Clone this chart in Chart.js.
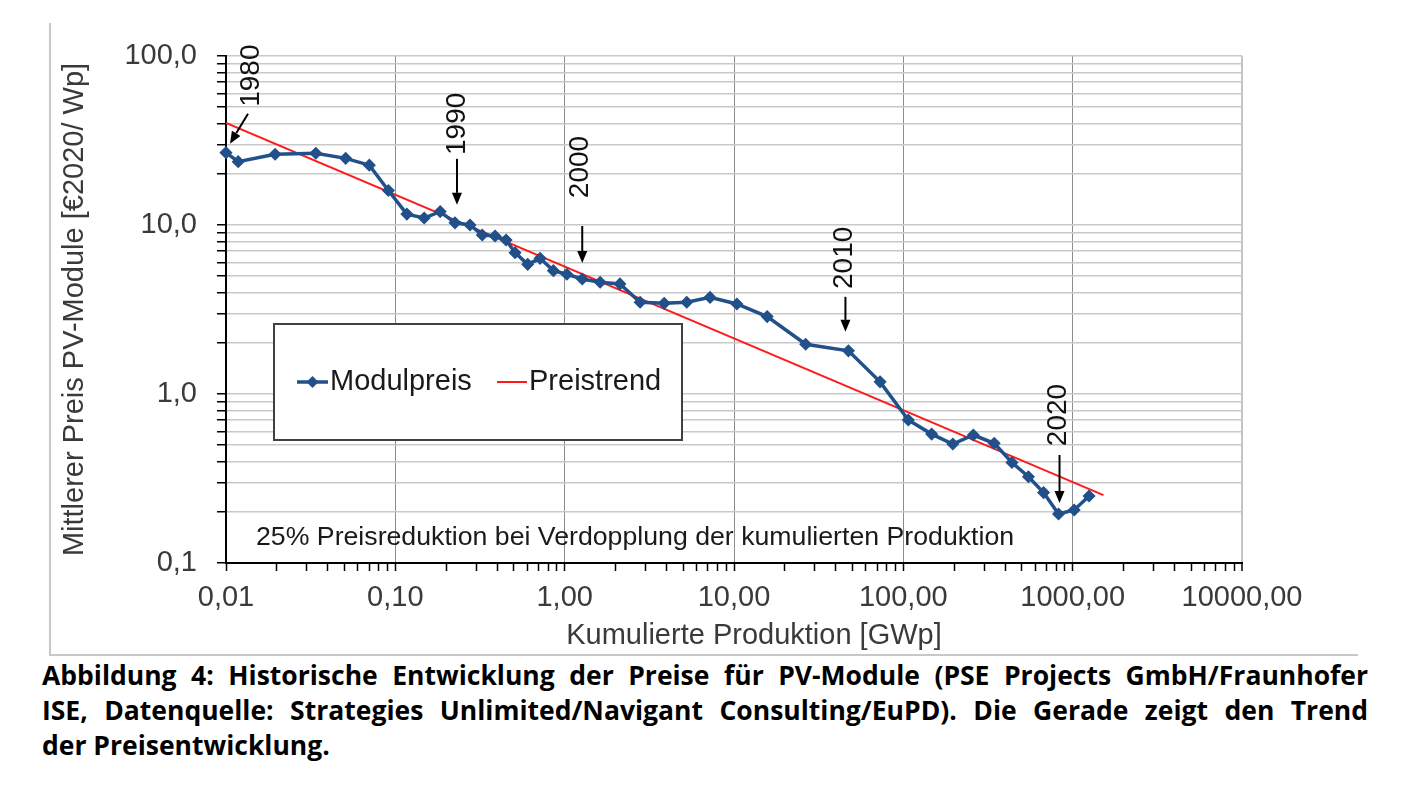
<!DOCTYPE html>
<html lang="de">
<head>
<meta charset="UTF-8">
<title>Historische Entwicklung der Preise für PV-Module</title>
<script src="https://cdn.jsdelivr.net/npm/chart.js"></script>
<style>
  body { margin: 0; background: #fff; width: 1426px; height: 800px; position: relative; overflow: hidden; }
  #frame { position: absolute; left: 49px; top: 23px; width: 1309px; height: 633px; box-sizing: border-box;
           border-left: 2px solid #c8c8c8; border-bottom: 2px solid #c8c8c8; }
  #wrap { position: absolute; left: 0; top: 0; width: 1426px; height: 655px; }
  #caption { position: absolute; left: 42px; top: 658px; width: 1326px;
             font-family: 'Open Sans', 'Noto Sans', sans-serif; font-weight: 700; font-size: 26.5px;
             line-height: 35px; color: #000; }
  #caption div { text-align: justify; text-align-last: justify; white-space: nowrap; }
  #caption div.last { text-align: left; text-align-last: left; }
</style>
</head>
<body>
<div id="frame"></div>
<div id="wrap"><canvas id="chart"></canvas></div>
<div id="caption">
  <div>Abbildung 4: Historische Entwicklung der Preise für PV-Module (PSE Projects GmbH/Fraunhofer</div>
  <div>ISE, Datenquelle: Strategies Unlimited/Navigant Consulting/EuPD). Die Gerade zeigt den Trend</div>
  <div class="last">der Preisentwicklung.</div>
</div>

<script>
// Kumulierte Produktion [GWp], 1980 .. 2022
const prodGWp = [0.01, 0.0118, 0.0195, 0.0339, 0.0509, 0.0702, 0.091, 0.117, 0.148, 0.184,
                 0.225, 0.276, 0.326, 0.388, 0.451, 0.509, 0.605, 0.716, 0.858, 1.03,
                 1.27, 1.62, 2.12, 2.79, 3.87, 5.26, 7.22, 10.4, 15.7, 26.5,
                 47.4, 72.9, 107, 147, 196, 259, 344, 438, 548, 673,
                 825, 1021, 1250];
// Mittlerer Modulpreis [€2020/Wp]
const modulPreis = [26.8, 23.7, 26.2, 26.6, 24.8, 22.6, 16.0, 11.6, 11.0, 12.0,
                    10.3, 10.0, 8.73, 8.61, 8.15, 6.86, 5.85, 6.35, 5.37, 5.11,
                    4.79, 4.58, 4.48, 3.49, 3.44, 3.49, 3.73, 3.41, 2.87, 1.97,
                    1.80, 1.18, 0.702, 0.579, 0.506, 0.572, 0.511, 0.393, 0.324, 0.261,
                    0.195, 0.206, 0.249];
// Trendgerade (Endpunkte)
const trendX = [0.01, 1520];
const trendY = [40.2, 0.252];

// Jahresmarken -> Index in den Datenreihen
const years = ['1980', '1990', '2000', '2010', '2020'];
const yearIdx = [0, 10, 20, 30, 40];

// Achsen
const xDecades = [0.01, 0.1, 1, 10, 100, 1000, 10000];
const xTickLabels = ['0,01', '0,10', '1,00', '10,00', '100,00', '1000,00', '10000,00'];
const yDecades = [0.1, 1, 10, 100];
const yTickLabels = ['0,1', '1,0', '10,0', '100,0'];

const BLUE = '#21508a';
const RED = '#ff1a1a';
const TXT = '#3a3a3a';
const FONT = "'Liberation Sans', Arial, sans-serif";

// pixel offsets for the year arrows (tip, tail, label centre) relative to the point
const arrowStyle = [
  { tip: [4, -9],  tail: [22, -39], label: [25, -77] },
  { tip: [2, -18], tail: [2, -64],  label: [2, -99] },
  { tip: [0, -16], tail: [0, -53],  label: [-2, -112] },
  { tip: [-3, -19], tail: [-3, -54], label: [-4, -93] },
  { tip: [1, -11], tail: [1, -59],  label: [0, -99] }
];

function withMinors(decades) {
  const out = [];
  decades.forEach((d, i) => {
    if (i === decades.length - 1) { out.push(d); return; }
    for (let m = 1; m <= 9; m++) out.push(+(m * d).toPrecision(6));
  });
  return out;
}
const isDecade = v => Math.abs(Math.log10(v) - Math.round(Math.log10(v))) < 1e-6;
function decadeLabel(v, decades, labels) {
  const i = decades.findIndex(d => Math.abs(d - v) / d < 1e-6);
  return i >= 0 ? labels[i] : '';
}

function drawArrow(ctx, x1, y1, x2, y2) {
  const a = Math.atan2(y2 - y1, x2 - x1);
  const hl = 12, hw = 5;
  const bx = x2 - Math.cos(a) * hl, by = y2 - Math.sin(a) * hl;
  ctx.beginPath();
  ctx.moveTo(x1, y1);
  ctx.lineTo(bx, by);
  ctx.stroke();
  ctx.beginPath();
  ctx.moveTo(x2, y2);
  ctx.lineTo(bx + Math.sin(a) * hw, by - Math.cos(a) * hw);
  ctx.lineTo(bx - Math.sin(a) * hw, by + Math.cos(a) * hw);
  ctx.closePath();
  ctx.fill();
}

const extras = {
  id: 'extras',
  afterDatasetsDraw(chart) {
    const ctx = chart.ctx;
    const xs = chart.scales.x, ys = chart.scales.y;
    const area = chart.chartArea;
    ctx.save();

    // year arrows
    ctx.strokeStyle = '#000';
    ctx.fillStyle = '#000';
    ctx.lineWidth = 2;
    years.forEach((yr, k) => {
      const i = yearIdx[k];
      const px = xs.getPixelForValue(prodGWp[i]);
      const py = ys.getPixelForValue(modulPreis[i]);
      const s = arrowStyle[k];
      drawArrow(ctx, px + s.tail[0], py + s.tail[1], px + s.tip[0], py + s.tip[1]);
      ctx.save();
      ctx.translate(px + s.label[0], py + s.label[1]);
      ctx.rotate(-Math.PI / 2);
      ctx.font = '28px ' + FONT;
      ctx.fillStyle = '#111';
      ctx.textAlign = 'center';
      ctx.textBaseline = 'middle';
      ctx.fillText(yr, 0, 0);
      ctx.restore();
    });

    // legend box
    const lx = area.left + 48, ly = 324, lw = 408, lh = 116;
    ctx.fillStyle = '#fff';
    ctx.fillRect(lx, ly, lw, lh);
    ctx.strokeStyle = '#404040';
    ctx.lineWidth = 2;
    ctx.strokeRect(lx, ly, lw, lh);
    const my = ly + 58;
    ctx.font = '29px ' + FONT;
    ctx.textBaseline = 'middle';
    ctx.textAlign = 'left';
    const ds = chart.data.datasets;
    // Modulpreis
    ctx.strokeStyle = ds[0].borderColor;
    ctx.lineWidth = 3.5;
    ctx.beginPath(); ctx.moveTo(lx + 23, my); ctx.lineTo(lx + 54, my); ctx.stroke();
    ctx.fillStyle = ds[0].borderColor;
    ctx.beginPath();
    ctx.moveTo(lx + 38.5, my - 6); ctx.lineTo(lx + 44.5, my); ctx.lineTo(lx + 38.5, my + 6); ctx.lineTo(lx + 32.5, my);
    ctx.closePath(); ctx.fill();
    ctx.fillStyle = '#1a1a1a';
    ctx.fillText(ds[0].label, lx + 56, my);
    // Preistrend
    ctx.strokeStyle = ds[1].borderColor;
    ctx.lineWidth = 2;
    ctx.beginPath(); ctx.moveTo(lx + 223, my); ctx.lineTo(lx + 253, my); ctx.stroke();
    ctx.fillText(ds[1].label, lx + 255, my);

    // note inside the plot
    ctx.font = '26.7px ' + FONT;
    ctx.fillStyle = '#1a1a1a';
    ctx.fillText('25% Preisreduktion bei Verdopplung der kumulierten Produktion', area.left + 30, area.bottom - 25);

    // x axis title
    ctx.font = '29px ' + FONT;
    ctx.fillStyle = TXT;
    ctx.textAlign = 'center';
    ctx.fillText('Kumulierte Produktion [GWp]', (area.left + area.right) / 2 + 20, 636);

    ctx.restore();
  }
};

new Chart(document.getElementById('chart'), {
  type: 'line',
  data: {
    datasets: [
      {
        label: 'Modulpreis',
        data: prodGWp.map((x, i) => ({ x: x, y: modulPreis[i] })),
        borderColor: BLUE,
        backgroundColor: BLUE,
        borderWidth: 3.5,
        pointStyle: 'rectRot',
        pointRadius: 5.5,
        pointBorderWidth: 1.5,
        tension: 0,
        clip: false
      },
      {
        label: 'Preistrend',
        data: trendX.map((x, i) => ({ x: x, y: trendY[i] })),
        borderColor: RED,
        backgroundColor: RED,
        borderWidth: 2,
        pointRadius: 0,
        tension: 0
      }
    ]
  },
  plugins: [extras],
  options: {
    responsive: true,
    maintainAspectRatio: false,
    animation: false,
    devicePixelRatio: 1,
    layout: { padding: { left: 50, right: 184, top: 56, bottom: 0 } },
    plugins: {
      legend: { display: false },
      tooltip: { enabled: false }
    },
    scales: {
      x: {
        type: 'logarithmic',
        min: 0.01,
        max: 10000,
        afterBuildTicks: s => { s.ticks = withMinors(xDecades).map(v => ({ value: v })); },
        afterFit: s => { s.height = 92; },
        border: { color: '#000', width: 2 },
        grid: {
          color: c => (c.tick && isDecade(c.tick.value)) ? (c.tick.value >= 10000 ? '#c4c4c4' : '#8c8c8c') : 'rgba(0,0,0,0)',
          lineWidth: c => (c.tick && c.tick.value >= 10000) ? 2 : 1,
          tickColor: '#000',
          tickWidth: 1.5,
          tickLength: 8
        },
        ticks: {
          autoSkip: false,
          maxRotation: 0,
          padding: 10,
          color: TXT,
          font: { family: FONT, size: 29 },
          callback: v => decadeLabel(v, xDecades, xTickLabels)
        }
      },
      y: {
        type: 'logarithmic',
        min: 0.1,
        max: 100,
        afterBuildTicks: s => { s.ticks = withMinors(yDecades).map(v => ({ value: v })); },
        afterFit: s => { s.width = 176; },
        border: { color: '#000', width: 2 },
        grid: {
          color: '#c9c9c9',
          lineWidth: 1.5,
          tickColor: '#000',
          tickWidth: 1.5,
          tickLength: 9
        },
        ticks: {
          autoSkip: false,
          padding: 20,
          color: TXT,
          font: { family: FONT, size: 29 },
          callback: v => decadeLabel(v, yDecades, yTickLabels)
        },
        title: {
          display: true,
          text: 'Mittlerer Preis PV-Module [€2020/ Wp]',
          color: TXT,
          font: { family: FONT, size: 29 },
          padding: { top: 8, bottom: 0 }
        }
      }
    }
  }
});
</script>
</body>
</html>
